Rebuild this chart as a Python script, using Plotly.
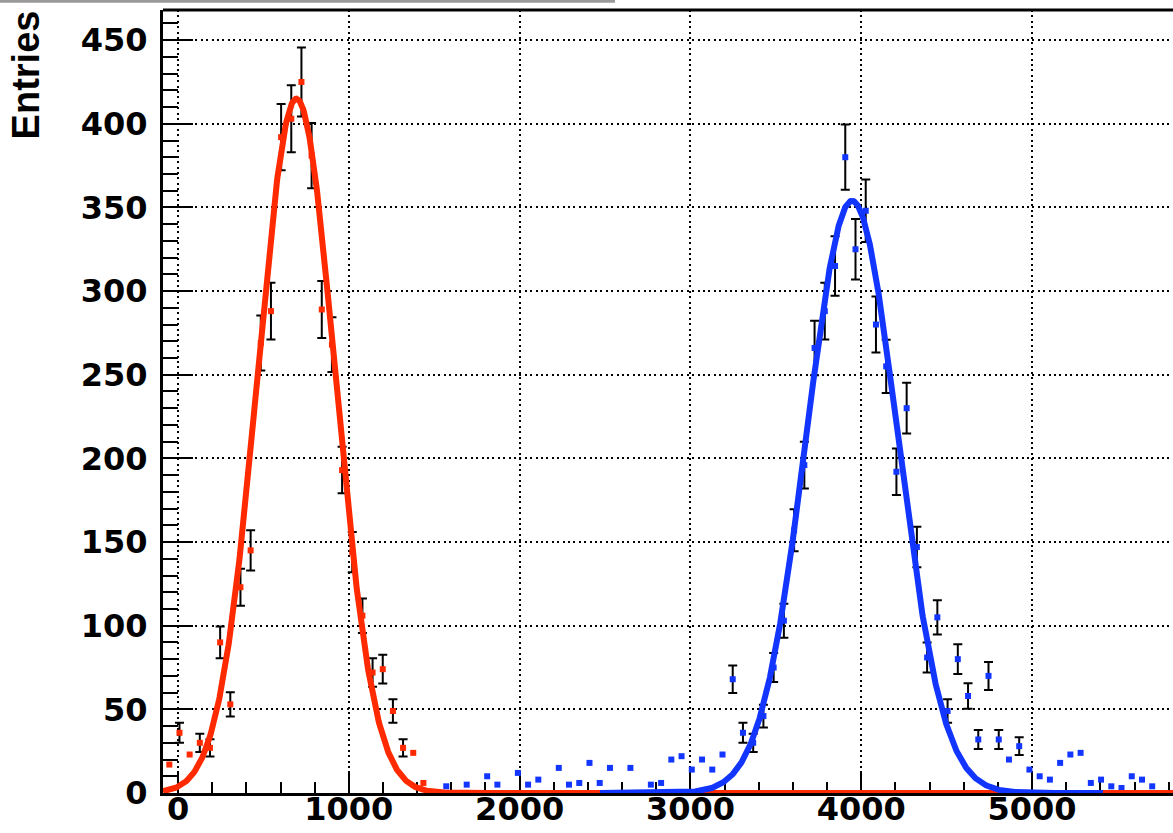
import numpy as np
import plotly.graph_objects as go

# ---------------- data ----------------
# red histogram (bins of equal width, first bin centre given)
red_first_center = -51.0
red_bin_width = 59.5
red_counts = [17, 36, 23, 30, 27, 90, 53, 123, 145, 269, 288, 392, 403, 425,
              381, 289, 268, 193, 144, 106, 72, 74, 49, 27, 24, 6]
red_has_err = [0, 1, 0, 1, 1, 1, 1, 1, 1, 1, 1, 1, 1, 1,
               1, 1, 1, 1, 1, 1, 1, 1, 1, 1, 0, 0]

# blue histogram (0 = empty bin, not drawn)
blue_first_center = 1570.2
blue_bin_width = 59.9
blue_counts = [4, 0, 5, 0, 10, 5, 0, 12, 5, 8, 0, 15, 5, 6, 18, 6, 15, 0, 15, 0,
               5, 6, 20, 22, 14, 20, 14, 23, 68, 36, 30, 46, 75, 103, 157, 196,
               266, 288, 315, 380, 325, 348, 280, 255, 192, 230, 147, 81, 105,
               49, 80, 58, 32, 70, 32, 20, 28, 14, 10, 8, 18, 23, 24, 6, 8, 4,
               3, 10, 8, 4]
blue_has_err = [0] * 28 + [1] * 27 + [0, 1] + [0] * 13

# Gaussian fit parameters (amplitude, mean, sigma) and drawing ranges
red_fit = (415.0, 693.0, 226.0)
red_fit_range = (-88.0, 5825.0)
blue_fit = (354.0, 3946.0, 266.0)
blue_fit_range = (2470.0, 5415.0)

x_tick_values = [0, 1000, 2000, 3000, 4000, 5000]
y_tick_values = [0, 50, 100, 150, 200, 250, 300, 350, 400, 450]

RED = "#ff2a00"
BLUE = "#1236ff"


def hist_xy(first, width, counts, has_err, want_err):
    xs, ys, es = [], [], []
    for i, (c, e) in enumerate(zip(counts, has_err)):
        if c <= 0 or bool(e) != want_err:
            continue
        xs.append(first + width * i)
        ys.append(c)
        es.append(np.sqrt(c))
    return xs, ys, es


def gauss(params, rng, n=1500):
    a, mu, s = params
    x = np.linspace(rng[0], rng[1], n)
    return x, a * np.exp(-0.5 * ((x - mu) / s) ** 2)


fig = go.Figure()

for first, width, counts, has_err, col in [
    (red_first_center, red_bin_width, red_counts, red_has_err, RED),
    (blue_first_center, blue_bin_width, blue_counts, blue_has_err, BLUE),
]:
    for want in (True, False):
        xs, ys, es = hist_xy(first, width, counts, has_err, want)
        fig.add_trace(go.Scatter(
            x=xs, y=ys, mode="markers",
            marker=dict(symbol="square", size=6, color=col, line=dict(width=0)),
            error_y=dict(type="data", array=es, visible=want, color="black",
                         thickness=2, width=4.5),
            showlegend=False, hoverinfo="skip",
        ))

for params, rng, col in [(red_fit, red_fit_range, RED), (blue_fit, blue_fit_range, BLUE)]:
    gx, gy = gauss(params, rng)
    fig.add_trace(go.Scatter(x=gx, y=gy, mode="lines",
                             line=dict(color=col, width=6),
                             showlegend=False, hoverinfo="skip"))

axis_common = dict(
    showline=True, linecolor="black", linewidth=3,
    ticks="inside", tickcolor="black", tickwidth=2,
    showgrid=True, gridcolor="black", gridwidth=1.6, griddash="2px,3.4px",
    zeroline=False, layer="below traces", automargin=False,
)

fig.update_layout(
    width=1173, height=833,
    margin=dict(l=163, r=0, t=10, b=40),
    paper_bgcolor="white", plot_bgcolor="white",
    showlegend=False,
    xaxis=dict(
        range=[-88, 5825], tickvals=x_tick_values,
        ticktext=[str(v) for v in x_tick_values], ticklen=22,
        tickfont=dict(family="DejaVu Sans", size=32, color="black", weight="bold"),
        minor=dict(dtick=200, tick0=0, ticks="inside", ticklen=11, tickwidth=2,
                   tickcolor="black", showgrid=False),
        ticklabelstandoff=-14,
        **axis_common,
    ),
    yaxis=dict(
        range=[0, 468], tickvals=y_tick_values,
        ticktext=[str(v) for v in y_tick_values], ticklen=30,
        tickfont=dict(family="DejaVu Sans", size=32, color="black", weight="bold"),
        minor=dict(dtick=10, tick0=0, ticks="inside", ticklen=15, tickwidth=2,
                   tickcolor="black", showgrid=False),
        ticklabelstandoff=6,
        **axis_common,
    ),
    shapes=[
        dict(type="line", xref="paper", yref="paper", x0=0, x1=1, y0=1, y1=1,
             line=dict(color="black", width=3)),
        dict(type="line", xref="paper", yref="paper", x0=-0.1614, x1=0.4475,
             y0=1.0111, y1=1.0111, line=dict(color="#9a9a9a", width=3)),
    ],
    annotations=[
        dict(text="Entries", xref="paper", yref="paper", x=-0.1347, y=1.0026,
             xanchor="center", yanchor="top", textangle=-90, showarrow=False,
             font=dict(family="Liberation Sans", size=38, color="black", weight="bold")),
    ],
)

fig.write_html("out.html")
